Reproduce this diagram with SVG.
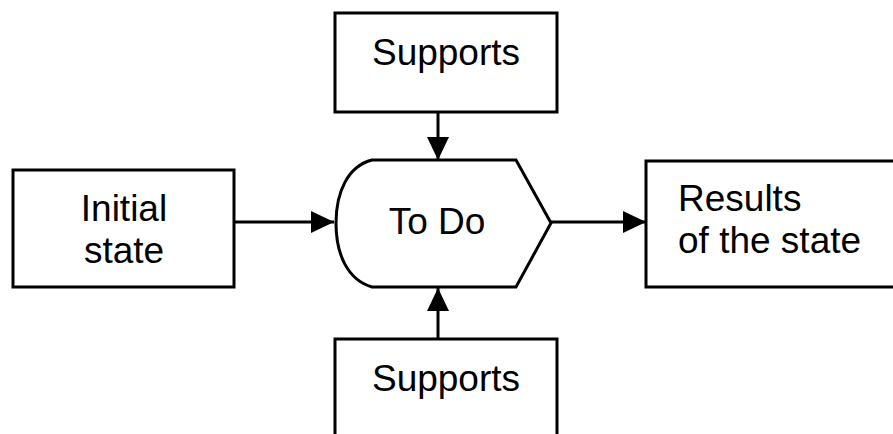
<svg xmlns="http://www.w3.org/2000/svg" width="893" height="434" viewBox="0 0 893 434">
<style>
.box{fill:#fff;stroke:#000;stroke-width:3}
.t{font-family:"Liberation Sans",Arial,sans-serif;font-size:37px;fill:#000}
.c{text-anchor:middle}
.edge{stroke:#000;stroke-width:3;fill:none}
</style>
<defs>
<marker id="ah" markerUnits="userSpaceOnUse" markerWidth="24" markerHeight="24" viewBox="0 0 24 24" refX="23" refY="12" orient="auto">
<path d="M0,1 L23,12 L0,23 Z" fill="#000"/>
</marker>
</defs>
<rect width="893" height="434" fill="#fff"/>
<g id="connectors">
<line class="edge" x1="234" y1="222" x2="334" y2="222" marker-end="url(#ah)"/>
<line class="edge" x1="551" y1="222" x2="646" y2="222" marker-end="url(#ah)"/>
<line class="edge" x1="438" y1="112" x2="438" y2="160" marker-end="url(#ah)"/>
<line class="edge" x1="438" y1="339" x2="438" y2="288" marker-end="url(#ah)"/>
</g>
<g id="supports-top">
<rect class="box" x="335" y="13" width="222" height="99"/>
<text class="t c" x="446" y="65">Supports</text>
</g>
<g id="initial-state">
<rect class="box" x="13" y="170" width="221" height="117"/>
<text class="t c" x="124" y="221">Initial</text>
<text class="t c" x="124" y="263">state</text>
</g>
<g id="todo">
<path class="box" d="M372,160 L516,160 L551,223 L516,287 L372,287 C348,280 336,255 336,223 C336,192 348,166 372,160 Z"/>
<text class="t c" x="437" y="234">To Do</text>
</g>
<g id="results">
<rect class="box" x="646" y="161" width="260" height="126"/>
<text class="t" x="678" y="211">Results</text>
<text class="t" x="678" y="253">of the state</text>
</g>
<g id="supports-bottom">
<rect class="box" x="335" y="339" width="222" height="110"/>
<text class="t c" x="446" y="391">Supports</text>
</g>
</svg>
